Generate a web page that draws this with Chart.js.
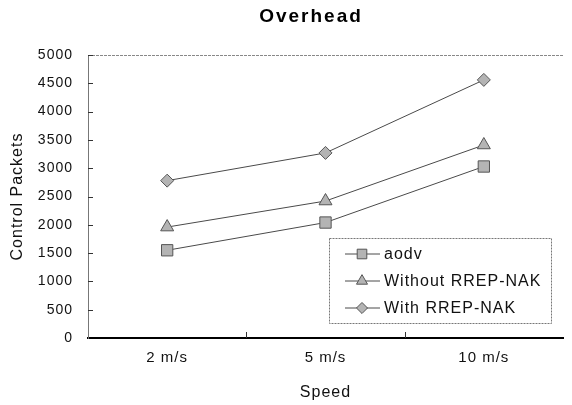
<!DOCTYPE html>
<html>
<head>
<meta charset="utf-8">
<script src="https://cdn.jsdelivr.net/npm/chart.js@4"></script>
<style>
  html, body { margin: 0; padding: 0; background: #fff; }
  #wrap { width: 572px; height: 405px; }
</style>
</head>
<body>
<div id="wrap"><canvas id="overheadChart"></canvas></div>
<script>
// values
const speeds = ['2 m/s', '5 m/s', '10 m/s'];
const seriesNames = ['aodv', 'Without RREP-NAK', 'With RREP-NAK'];
const aodv = [1550, 2040, 3030];
const withoutNak = [1960, 2420, 3410];
const withNak = [2780, 3270, 4560];
const yMax = 5000;
const yStep = 500;

const FONT = '"Liberation Sans", Arial, sans-serif';
Chart.defaults.font.family = FONT;
Chart.defaults.color = '#111';

// title, box legend, inner tick marks and top frame line
const decor = {
  id: 'decor',
  beforeDraw(chart) {
    chart.ctx.letterSpacing = '1px';
  },
  afterDatasetsDraw(chart) {
    const { ctx, chartArea: area, scales } = chart;
    ctx.save();

    // top frame line
    ctx.strokeStyle = '#888';
    ctx.lineWidth = 1;
    ctx.setLineDash([3, 1]);
    ctx.beginPath();
    ctx.moveTo(area.left, area.top + 0.5);
    ctx.lineTo(area.right, area.top + 0.5);
    ctx.stroke();
    ctx.setLineDash([]);

    // inward ticks on y axis
    ctx.strokeStyle = '#333';
    scales.y.ticks.forEach(t => {
      if (t.value === 0) return;
      const py = Math.round(scales.y.getPixelForValue(t.value)) + 0.5;
      ctx.beginPath();
      ctx.moveTo(area.left, py);
      ctx.lineTo(area.left + 5, py);
      ctx.stroke();
    });
    // inward ticks on x axis, between categories
    for (let i = 0; i < speeds.length - 1; i++) {
      const px = Math.round(scales.x.getPixelForValue(i + 0.5)) + 0.5;
      ctx.beginPath();
      ctx.moveTo(px, area.bottom);
      ctx.lineTo(px, area.bottom - 6);
      ctx.stroke();
    }

    // legend box
    const lx = area.right - 234, ly = area.bottom - 100, lw = 222, lh = 85;
    ctx.fillStyle = '#fff';
    ctx.fillRect(lx, ly, lw, lh);
    ctx.strokeStyle = '#777';
    ctx.setLineDash([2, 1]);
    ctx.strokeRect(lx + 0.5, ly + 0.5, lw, lh);
    ctx.setLineDash([]);
    chart.data.datasets.forEach((ds, i) => {
      const cy = ly + 16 + i * 27;
      ctx.strokeStyle = ds.borderColor;
      ctx.lineWidth = 1;
      ctx.beginPath();
      ctx.moveTo(lx + 16, cy);
      ctx.lineTo(lx + 51, cy);
      ctx.stroke();
      ctx.fillStyle = ds.pointBackgroundColor;
      ctx.strokeStyle = ds.pointBorderColor;
      Chart.helpers.drawPoint(ctx, {
        pointStyle: ds.pointStyle, radius: ds.pointRadius * 0.85, borderWidth: 1, rotation: 0
      }, lx + 33, cy);
      ctx.fillStyle = '#111';
      ctx.font = '16px ' + FONT;
      ctx.textAlign = 'left';
      ctx.textBaseline = 'middle';
      ctx.fillText(ds.label, lx + 55, cy + 1);
    });

    // chart title
    ctx.letterSpacing = '2px';
    ctx.fillStyle = '#000';
    ctx.font = 'bold 19px ' + FONT;
    ctx.textAlign = 'center';
    ctx.textBaseline = 'middle';
    ctx.fillText('Overhead', 311, 17);
    ctx.restore();
  }
};

const lineStyle = {
  borderColor: '#4a4a4a',
  borderWidth: 1,
  pointBackgroundColor: '#b4b4b4',
  pointBorderColor: '#555',
  pointBorderWidth: 1,
  tension: 0,
  fill: false
};

new Chart(document.getElementById('overheadChart'), {
  type: 'line',
  data: {
    labels: speeds,
    datasets: [
      { ...lineStyle, label: seriesNames[0], data: aodv, pointStyle: 'rect', pointRadius: 8 },
      { ...lineStyle, label: seriesNames[1], data: withoutNak, pointStyle: 'triangle', pointRadius: 7.5 },
      { ...lineStyle, label: seriesNames[2], data: withNak, pointStyle: 'rectRot', pointRadius: 6.5 }
    ]
  },
  options: {
    responsive: true,
    maintainAspectRatio: false,
    animation: false,
    layout: { padding: { top: 55, right: 0, bottom: 0, left: 0 } },
    plugins: {
      legend: { display: false },
      title: { display: false },
      tooltip: { enabled: false }
    },
    scales: {
      x: {
        offset: true,
        grid: { drawOnChartArea: false, drawTicks: false },
        border: { color: '#000', width: 2 },
        ticks: { padding: 11, maxRotation: 0, font: { size: 15 } },
        title: { display: true, text: 'Speed', font: { size: 16 }, padding: { top: 0, bottom: 3 } },
        afterFit(scale) { scale.height = 67; }
      },
      y: {
        min: 0,
        max: yMax,
        grid: { drawOnChartArea: false, drawTicks: false },
        border: { color: '#777', width: 1 },
        ticks: { stepSize: yStep, padding: 15, font: { size: 14 }, callback: v => String(v) },
        title: { display: true, text: 'Control Packets', font: { size: 16 }, padding: { top: 8, bottom: 0 } },
        afterFit(scale) { scale.width = 88; }
      }
    }
  },
  plugins: [decor]
});
</script>
</body>
</html>
